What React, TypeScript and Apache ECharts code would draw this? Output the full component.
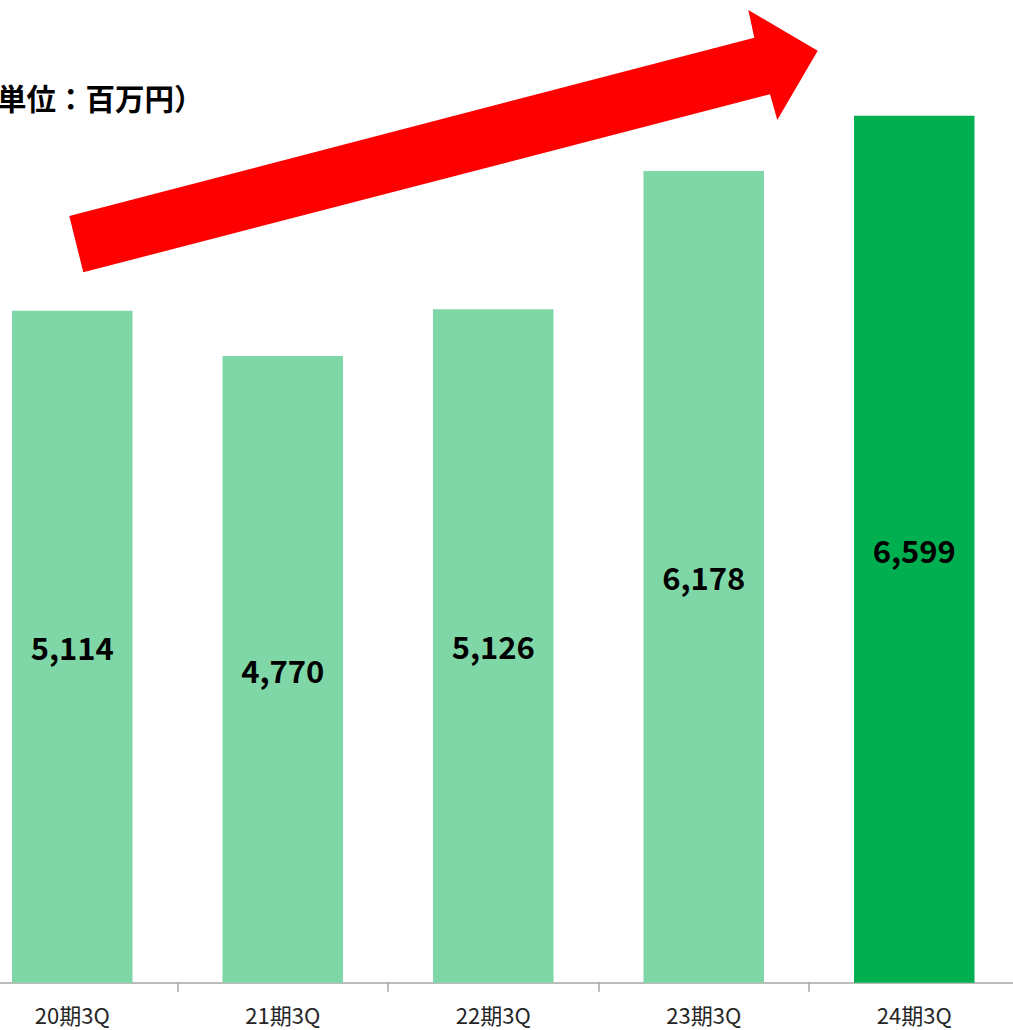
import React, { useEffect, useRef } from "react";
import * as echarts from "echarts";

const categories = ["20期3Q", "21期3Q", "22期3Q", "23期3Q", "24期3Q"];
const values = [5114, 4770, 5126, 6178, 6599];
const barColors = ["#7FD7A7", "#7FD7A7", "#7FD7A7", "#7FD7A7", "#00B050"];
const unitLabel = "（単位：百万円）";

export default function App() {
  const ref = useRef<HTMLDivElement>(null);
  useEffect(() => {
    if (!ref.current) return;
    const chart = echarts.init(ref.current, undefined, { renderer: "svg" });
    chart.setOption({
      animation: false,
      backgroundColor: "#ffffff",
      grid: {
        left: -33,
        right: -6.5,
        top: 63,
        bottom: 47.3,
        containLabel: false,
        outerBoundsMode: "none",
      },
      xAxis: {
        type: "category",
        data: categories,
        axisLine: { show: true, lineStyle: { color: "#A6A6A6", width: 1.5 } },
        axisTick: { show: true, length: 9, lineStyle: { color: "#A6A6A6", width: 1.5 } },
        axisLabel: {
          color: "#262626",
          fontSize: 22,
          lineHeight: 22,
          fontFamily: "Noto Sans CJK JP",
          margin: 20,
        },
      },
      yAxis: {
        type: "value",
        min: 0,
        max: 7000,
        show: false,
        splitLine: { show: false },
      },
      series: [
        {
          type: "bar",
          barWidth: 120.5,
          data: values.map((v, i) => ({ value: v, itemStyle: { color: barColors[i] } })),
          label: {
            show: true,
            position: "inside",
            color: "#000000",
            fontSize: 31,
            fontWeight: "bold",
            fontFamily: "Noto Sans CJK JP",
            formatter: (p: any) => Number(p.value).toLocaleString("en-US"),
          },
        },
      ],
      graphic: [
        {
          type: "polygon",
          shape: {
            points: [
              [69.3, 216],
              [754.3, 37.7],
              [748.3, 10],
              [817.7, 50.7],
              [777.3, 120],
              [770, 94.3],
              [83.3, 272.3],
            ],
          },
          style: { fill: "#FF0000" },
          z: 10,
        },
        {
          type: "text",
          x: -32.5,
          y: 97,
          style: {
            text: unitLabel,
            fontSize: 29.5,
            fontWeight: "bold",
            fontFamily: "Noto Sans CJK JP",
            fill: "#000000",
            verticalAlign: "middle",
            align: "left",
          },
          z: 10,
        },
      ],
    });
    return () => chart.dispose();
  }, []);
  return (
    <div
      ref={ref}
      style={{ position: "fixed", left: 0, top: 0, width: 1013, height: 1030 }}
    />
  );
}
